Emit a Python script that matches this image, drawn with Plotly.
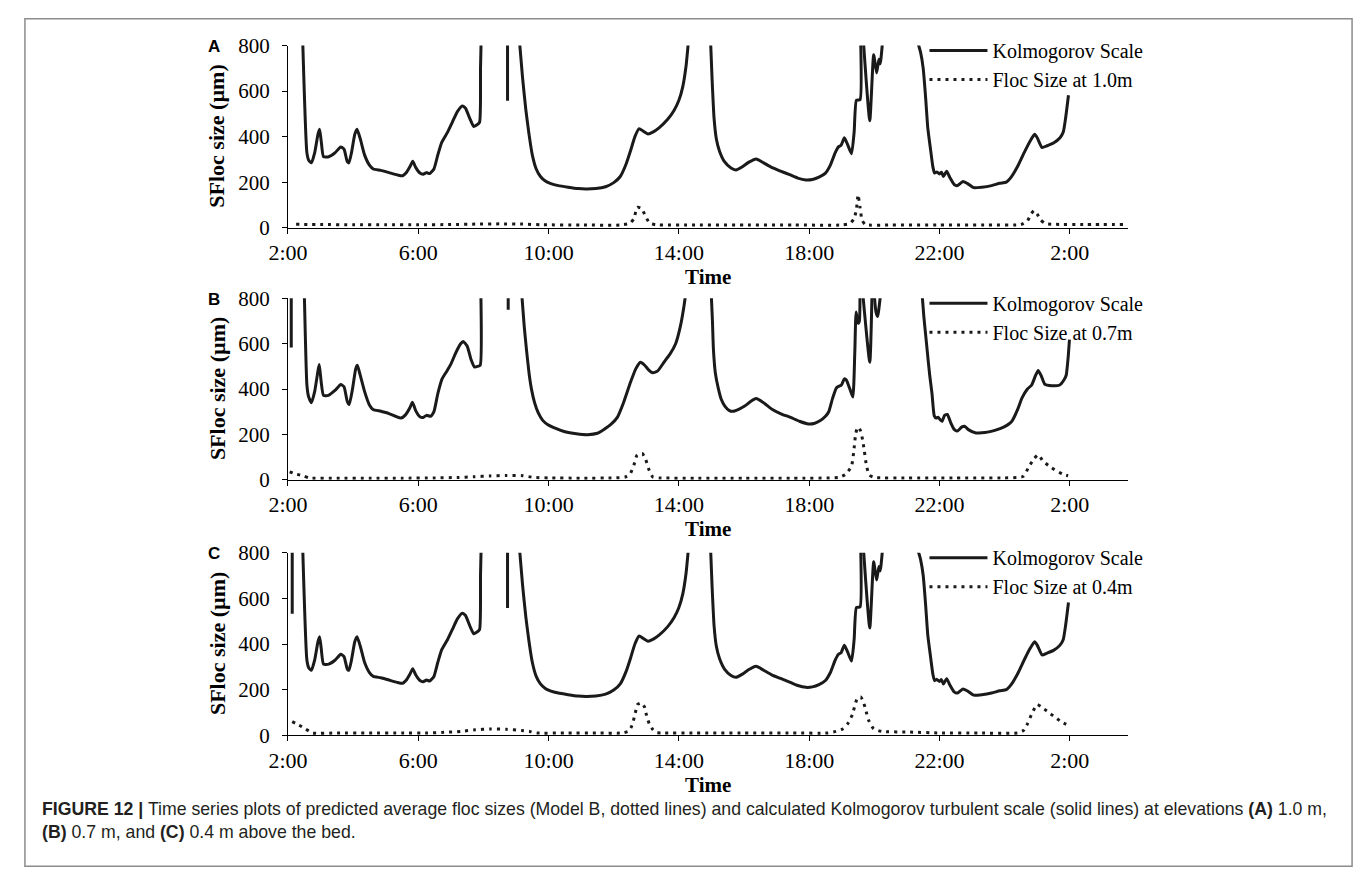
import plotly.graph_objects as go

W, H = 1357, 891

# ---------------- data ----------------
tick_vals = [2, 6, 10, 14, 18, 22, 26]
tick_text = ["2:00", "6:00", "10:00", "14:00", "18:00", "22:00", "2:00"]
y_ticks = [0, 200, 400, 600, 800]

# Kolmogorov scale, panel A (hours since midnight of day 1; None = gap, >800 leaves plot)
kolmo_A_t = [2.45, 2.58, 2.64, 2.72, 2.82, 2.92, 2.97, 3.02, 3.09, 3.25, 3.45, 3.62, 3.72, 3.82, 3.87,
             3.95, 4.05, 4.12, 4.22, 4.35, 4.5, 4.62, 4.85, 5.1, 5.35, 5.52, 5.62, 5.75, 5.83, 5.92,
             6.05, 6.15, 6.25, 6.35, 6.48, 6.6, 6.72, 6.9, 7.05, 7.2, 7.35, 7.45, 7.58, 7.7, 7.78,
             7.88, 7.91, 7.93, None,
             8.74, 8.74, None,
             9.1, 9.2, 9.3, 9.4, 9.5, 9.62, 9.75, 9.9, 10.05, 10.3, 10.6, 10.9, 11.15, 11.45, 11.75,
             12.0, 12.2, 12.38, 12.52, 12.65, 12.78, 12.9, 13.05, 13.2, 13.4, 13.65, 13.85, 14.0,
             14.12, 14.22, 14.3, None,
             14.97, 15.02, 15.08, 15.15, 15.25, 15.4, 15.6, 15.75, 15.95, 16.15, 16.37, 16.6, 16.85,
             17.1, 17.4, 17.65, 17.9, 18.1, 18.3, 18.5, 18.65, 18.8, 18.9, 18.98, 19.08, 19.18, 19.3,
             19.38, 19.45, 19.56, 19.58, None,
             19.66, 19.86, 19.98, 20.07, 20.14, 20.18, 20.26, None,
             21.3, 21.42, 21.5, 21.57, 21.64, 21.72, 21.8, 21.85, 21.92, 22.0, 22.06, 22.12, 22.22,
             22.32, 22.45, 22.55, 22.72, 22.85, 23.05, 23.3, 23.6, 23.85, 24.05, 24.2, 24.4, 24.6,
             24.78, 24.92, 25.0, 25.15, 25.3, 25.5, 25.7, 25.8, 25.87, 25.96]
kolmo_A_v = [830, 330, 295, 285, 330, 410, 432, 380, 312, 312, 330, 355, 345, 290, 285,
             330, 410, 432, 390, 320, 275, 258, 252, 242, 232, 228, 240, 270, 292, 265,
             240, 235, 242, 238, 258, 320, 375, 420, 465, 510, 535, 525, 480, 445, 450,
             463, 700, 830, None,
             830, 558, None,
             830, 660, 520, 410, 320, 258, 225, 205, 195, 185, 178, 172, 170, 172, 180,
             198, 225, 280, 340, 400, 435, 425, 412, 420, 440, 475, 515, 560,
             620, 710, 830, None,
             830, 650, 480, 390, 335, 290, 262, 254, 268, 288, 302, 285, 265,
             250, 233, 218, 210, 212, 222, 240, 275, 330, 355, 362, 395, 365, 325,
             420, 560, 562, 830, None,
             830, 470, 760, 680, 740, 720, 830, None,
             830, 770, 700, 580, 440, 350, 265, 240, 245, 236, 244, 225, 248,
             220, 190, 185, 203, 195, 176, 178, 185, 195, 200, 222, 270, 330,
             380, 410, 395, 352, 360, 372, 395, 420, 480, 582]

floc_A_t = [2.25, 3, 4, 5, 6, 7, 7.8, 8.5, 9.2, 9.8, 11, 12.2, 12.5, 12.62, 12.72, 12.85, 12.98,
            13.1, 13.3, 14.5, 16, 17.5, 19.0, 19.25, 19.38, 19.45, 19.5, 19.56, 19.62, 19.72, 20.5,
            22, 23.5, 24.5, 24.7, 24.82, 24.9, 25.0, 25.1, 25.25, 25.5, 26.5, 27.7]
floc_A_v = [15, 14, 13, 13, 13, 14, 16, 17, 16, 13, 12, 12, 20, 40, 90, 85, 50,
            20, 13, 12, 12, 12, 12, 18, 40, 80, 145, 90, 35, 14, 12,
            12, 12, 14, 30, 62, 75, 60, 35, 18, 15, 14, 14]

# Kolmogorov scale, panel B
kolmo_B_t = [2.1, 2.1, None,
             2.5, 2.58, 2.63, 2.72, 2.82, 2.92, 2.96, 3.02, 3.09, 3.24, 3.45, 3.62, 3.72, 3.82, 3.88,
             3.98, 4.08, 4.13, 4.22, 4.35, 4.5, 4.61, 4.85, 5.1, 5.3, 5.47, 5.6, 5.75, 5.82, 5.92,
             6.05, 6.15, 6.25, 6.38, 6.48, 6.6, 6.73, 6.88, 7.0, 7.15, 7.3, 7.38, 7.5, 7.62, 7.72,
             7.82, 7.9, 7.92, None,
             8.76, 8.76, None,
             9.17, 9.25, 9.32, 9.4, 9.47, 9.57, 9.68, 9.82, 9.98, 10.2, 10.5, 10.85, 11.2, 11.5, 11.7,
             11.92, 12.11, 12.3, 12.52, 12.68, 12.82, 12.95, 13.07, 13.2, 13.35, 13.55, 13.73, 13.9,
             14.05, 14.15, 14.22, None,
             14.99, 15.03, 15.06, 15.12, 15.21, 15.3, 15.41, 15.55, 15.66, 15.85, 16.02, 16.2, 16.37,
             16.6, 16.87, 17.15, 17.43, 17.7, 17.98, 18.15, 18.33, 18.5, 18.6, 18.72, 18.84, 18.99,
             19.08, 19.14, 19.25, 19.34, 19.4, 19.44, 19.5, 19.54, 19.56, None,
             19.64, 19.86, 19.93, None,
             19.99, 20.05, 20.1, 20.2, None,
             21.46, 21.52, 21.6, 21.65, 21.7, 21.77, 21.84, 21.9, 21.96, 22.02, 22.08, 22.16, 22.24,
             22.35, 22.45, 22.55, 22.68, 22.77, 22.9, 23.12, 23.3, 23.47, 23.7, 23.97, 24.15, 24.23,
             24.4, 24.53, 24.7, 24.83, 24.95, 25.03, 25.12, 25.23, 25.45, 25.69, 25.82, 25.89, 25.95,
             25.99]
kolmo_B_v = [830, 583, None,
             830, 420, 368, 340, 390, 480, 508, 430, 372, 372, 395, 420, 410, 345, 332,
             400, 490, 505, 460, 390, 330, 310, 302, 292, 280, 272, 285, 320, 342, 305,
             278, 275, 284, 280, 300, 380, 445, 480, 510, 560, 600, 610, 590, 530, 498,
             500, 505, 830, None,
             830, 750, None,
             830, 680, 575, 470, 403, 340, 296, 262, 243, 228, 212, 203, 199, 205, 222,
             245, 275, 340, 432, 490, 518, 505, 485, 472, 480, 520, 555, 600,
             680, 760, 830, None,
             830, 700, 575, 470, 403, 355, 325, 305, 302, 312, 325, 345, 358,
             340, 310, 290, 275, 258, 246, 248, 260, 280, 300, 360, 406, 418,
             445, 440, 400, 365, 560, 740, 690, 700, 830, None,
             830, 518, 830, None,
             830, 740, 720, 830, None,
             830, 720, 604, 530, 461, 380, 282, 272, 276, 265, 258, 285, 288,
             250, 222, 215, 232, 236, 220, 206, 207, 210, 218, 232, 248, 260,
             310, 360, 400, 418, 460, 482, 460, 422, 415, 418, 440, 461, 540,
             618]

floc_B_t = [2.05, 2.25, 2.45, 2.65, 3.5, 4.5, 5.5, 6.5, 7.2, 7.7, 8.2, 8.7, 9.2, 9.55, 10, 11, 12,
            12.35, 12.5, 12.62, 12.72, 12.88, 12.98, 13.08, 13.2, 13.4, 14.5, 16, 17.5, 18.9, 19.12,
            19.3, 19.38, 19.43, 19.49, 19.58, 19.64, 19.69, 19.76, 19.85, 20.0, 21, 22.5, 24.0, 24.56,
            24.73, 24.88, 25.03, 25.18, 25.44, 25.79, 25.95]
floc_B_v = [35, 25, 18, 8, 7, 7, 7, 8, 10, 13, 17, 19, 18, 10, 8, 7, 8,
            12, 25, 65, 110, 115, 90, 45, 12, 8, 7, 7, 7, 10, 24,
            60, 140, 205, 232, 215, 175, 130, 60, 20, 10, 8, 8, 8, 14,
            53, 89, 110, 82, 53, 24, 18]

# Kolmogorov scale, panel C: short early segment, then same record as panel A
kolmo_C_t = [2.13, 2.13, None] + kolmo_A_t
kolmo_C_v = [830, 533, None] + kolmo_A_v

floc_C_t = [2.13, 2.33, 2.54, 2.74, 3.5, 4.5, 5.5, 6.28, 6.79, 7.3, 7.75, 8.2, 8.71, 9.17, 9.42,
            9.63, 10.5, 11.5, 12.26, 12.46, 12.56, 12.65, 12.73, 12.85, 12.94, 13.0, 13.09, 13.2,
            13.3, 13.48, 14.5, 16, 17.5, 18.57, 18.82, 19.03, 19.18, 19.33, 19.41, 19.48, 19.58,
            19.66, 19.73, 19.83, 19.98, 20.23, 21.09, 22.0, 23.2, 24.4, 24.58, 24.7, 24.85, 25.0,
            25.16, 25.36, 25.56, 25.76, 25.96]
floc_C_v = [60, 45, 28, 10, 10, 10, 10, 10, 13, 17, 24, 28, 26, 21, 17,
            10, 10, 10, 10, 18, 43, 90, 135, 142, 125, 92, 50, 25,
            12, 10, 10, 10, 10, 10, 17, 28, 50, 92, 135, 163, 168,
            149, 114, 64, 28, 17, 14, 10, 10, 10, 21, 50, 99, 135,
            121, 99, 78, 57, 43]

panels = [
    ("A", kolmo_A_t, kolmo_A_v, floc_A_t, floc_A_v, "Floc Size at 1.0m"),
    ("B", kolmo_B_t, kolmo_B_v, floc_B_t, floc_B_v, "Floc Size at 0.7m"),
    ("C", kolmo_C_t, kolmo_C_v, floc_C_t, floc_C_v, "Floc Size at 0.4m"),
]

# ---------------- layout geometry (pixels) ----------------
x_left, x_right = 272, 1125
panel_px = [(34.5, 221.7), (294.3, 480.7), (555.7, 743.3)]

SERIF = "Liberation Serif, Times New Roman, serif"
SANS = "Liberation Sans, Arial, sans-serif"

fig = go.Figure()
layout = dict(
    width=W, height=H, margin=dict(l=0, r=0, t=0, b=0),
    paper_bgcolor="white", plot_bgcolor="white", showlegend=True,
    font=dict(family=SERIF, color="black"),
)
annotations = []

for i, (lab, kt, kv, ft, fv, flabel) in enumerate(panels):
    n = "" if i == 0 else str(i + 1)
    top, bot = panel_px[i]
    ydom = [1 - bot / H, 1 - top / H]
    leg = "legend" if i == 0 else f"legend{i + 1}"
    fig.add_trace(go.Scatter(x=kt, y=kv, mode="lines", name="Kolmogorov Scale",
                             line=dict(color="#1a1a1a", width=3, shape="spline", smoothing=0.5),
                             connectgaps=False,
                             xaxis="x" + n, yaxis="y" + n, legend=leg))
    fig.add_trace(go.Scatter(x=ft, y=fv, mode="lines", name=flabel,
                             line=dict(color="#1a1a1a", width=3, dash="3px,5px",
                                       shape="spline", smoothing=0.5),
                             xaxis="x" + n, yaxis="y" + n, legend=leg))
    layout["xaxis" + n] = dict(
        domain=[x_left / W, x_right / W], range=[2, 27.8], anchor="y" + n,
        tickmode="array", tickvals=tick_vals, ticktext=tick_text,
        showline=True, linecolor="black", linewidth=1.2, ticks="outside", ticklen=5,
        tickcolor="black", showgrid=False, zeroline=False,
        tickfont=dict(family=SERIF, size=22, color="black"),
        title=dict(text="<b>Time</b>", font=dict(family=SERIF, size=21, color="black"), standoff=2),
    )
    layout["yaxis" + n] = dict(
        domain=ydom, range=[0, 800], anchor="x" + n, tickvals=y_ticks,
        showline=True, linecolor="black", linewidth=1.2, ticks="outside", ticklen=5,
        tickcolor="black", showgrid=False, zeroline=False, ticklabelstandoff=8,
        tickfont=dict(family=SERIF, size=21, color="black"),
    )
    layout[leg] = dict(
        x=918 / W, y=1 - (top - 15) / H, xanchor="left", yanchor="top",
        bgcolor="rgba(0,0,0,0)", font=dict(family=SERIF, size=20, color="black"),
        tracegroupgap=0, itemwidth=58,
    )
    annotations.append(dict(text=f"<b>{lab}</b>", x=197 / W, y=1 - (top + 1) / H,
                            xref="paper", yref="paper", showarrow=False,
                            font=dict(family=SANS, size=17, color="black"),
                            xanchor="center", yanchor="middle"))
    annotations.append(dict(text="<b>SFloc size (µm)</b>", x=200 / W, y=1 - ((top + bot) / 2) / H,
                            xref="paper", yref="paper", showarrow=False, textangle=-90,
                            font=dict(family=SERIF, size=22, color="black"),
                            xanchor="center", yanchor="middle"))

cap_font = dict(family=SANS, size=17.7, color="#231f20")
annotations.append(dict(
    text="<b>FIGURE 12 |</b> Time series plots of predicted average floc sizes (Model B, dotted lines) and "
         "calculated Kolmogorov turbulent scale (solid lines) at elevations <b>(A)</b> 1.0 m,",
    x=20 / W, y=1 - 819 / H, xref="paper", yref="paper", showarrow=False,
    xanchor="left", yanchor="middle", font=cap_font))
annotations.append(dict(
    text="<b>(B)</b> 0.7 m, and <b>(C)</b> 0.4 m above the bed.",
    x=20 / W, y=1 - 843 / H, xref="paper", yref="paper", showarrow=False,
    xanchor="left", yanchor="middle", font=cap_font))

layout["annotations"] = annotations
layout["shapes"] = [dict(type="rect", xref="paper", yref="paper",
                         x0=5 / W, x1=1352 / W, y0=1 - 878 / H, y1=1 - 7 / H,
                         line=dict(color="#8c8c8c", width=1.5))]
fig.update_layout(**layout)
fig.write_html("out.html")
